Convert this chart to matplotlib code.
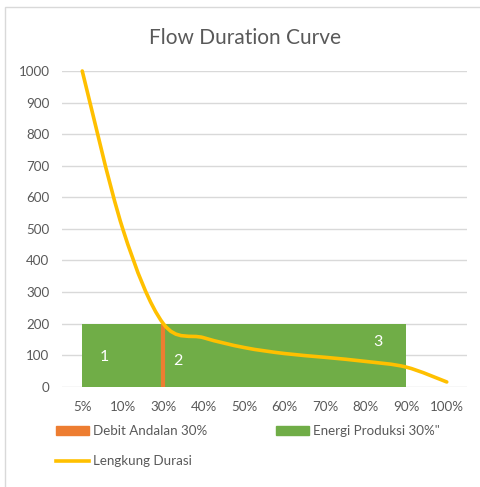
import numpy as np
import matplotlib
matplotlib.use('Agg')
import matplotlib.pyplot as plt
from matplotlib.path import Path
from matplotlib.patches import PathPatch, Patch, Rectangle
from matplotlib.lines import Line2D

plt.rcParams['font.family'] = ['Lato', 'DejaVu Sans']

# ---- data ----
categories = ['5%', '10%', '30%', '40%', '50%', '60%', '70%', '80%', '90%', '100%']
lengkung_durasi = [1000, 500, 200, 155, 124, 105, 93, 80, 62, 15]
energi_produksi = [200, 200, 200, 200, 200, 200, 200, 200, 200, None]
debit_andalan_cat = '30%'
debit_andalan_val = 200
zone_labels = ['1', '2', '3']
zone_label_pos = [(0.55, 95), (2.35, 80), (7.3, 142)]

GREY_TXT = '#595959'
GRID = '#D9D9D9'
ORANGE = '#ED7D31'
GREEN = '#70AD47'
YELLOW = '#FFC000'


def smooth_path(xs, ys, tension=1 / 6):
    """Bezier path through the points, Catmull-Rom style (like a smoothed line)."""
    pts = np.column_stack([xs, ys]).astype(float)
    n = len(pts)
    verts = [pts[0]]
    codes = [Path.MOVETO]
    for i in range(n - 1):
        p0 = pts[i - 1] if i > 0 else pts[i]
        p1, p2 = pts[i], pts[i + 1]
        p3 = pts[i + 2] if i + 2 < n else pts[i + 1]
        c1 = p1 + (p2 - p0) * tension
        c2 = p2 - (p3 - p1) * tension
        verts += [c1, c2, p2]
        codes += [Path.CURVE4] * 3
    return Path(verts, codes)


W, H = 480, 487
fig = plt.figure(figsize=(W / 100, H / 100), dpi=100)
ax = fig.add_axes([62 / W, (H - 386.7) / H, 405 / W, 315.7 / H])

x = np.arange(len(categories))

# production area (5% .. 90%)
e_idx = [i for i, v in enumerate(energi_produksi) if v is not None]
e_val = [energi_produksi[i] for i in e_idx]
ax.fill_between(e_idx, 0, e_val, color=GREEN, linewidth=0, zorder=2)

# dependable discharge marker
d_i = categories.index(debit_andalan_cat)
ax.vlines(d_i, 0, debit_andalan_val, color=ORANGE, linewidth=3, zorder=3)

# smoothed duration curve
curve = PathPatch(smooth_path(x, lengkung_durasi), facecolor='none',
                  edgecolor=YELLOW, linewidth=2.6, zorder=4,
                  capstyle='round', clip_on=False)
ax.add_patch(curve)

for lab, (lx, ly) in zip(zone_labels, zone_label_pos):
    ax.text(lx, ly, lab, color='white', fontsize=11.5, ha='center', va='center', zorder=5)

ax.set_xlim(-0.5, len(categories) - 0.5)
ax.set_ylim(0, 1000)
ax.set_yticks(np.arange(0, 1001, 100))
ax.set_xticks(x)
ax.set_xticklabels(categories)
ax.grid(axis='y', color=GRID, linewidth=1)
ax.set_axisbelow(True)
for s in ax.spines.values():
    s.set_visible(False)
ax.tick_params(length=0, colors=GREY_TXT, labelsize=9.6)
ax.tick_params(axis='y', pad=9)
ax.tick_params(axis='x', pad=10)

fig.text(245 / W, 1 - 38 / H, 'Flow Duration Curve', ha='center', va='center',
         fontsize=15, color=GREY_TXT)

handles = [Patch(color=ORANGE), Line2D([], [], color=YELLOW, linewidth=2.6),
           Patch(color=GREEN)]
labels = ['Debit Andalan 30%', 'Lengkung Durasi', 'Energi Produksi 30%"']
fig.legend(handles, labels, ncol=2, loc='upper left',
           bbox_to_anchor=(44 / W, 1 - 413 / H), frameon=False,
           fontsize=9.6, labelcolor=GREY_TXT, handlelength=2.5,
           handleheight=0.6, handletextpad=0.3, columnspacing=5.1,
           labelspacing=1.35)

# chart area border
fig.patches.append(Rectangle((5 / W, -0.1), 1.2, 1 - 7 / H + 0.1,
                             transform=fig.transFigure, fill=False,
                             edgecolor=GRID, linewidth=1))

fig.savefig('out.png', dpi=100)
